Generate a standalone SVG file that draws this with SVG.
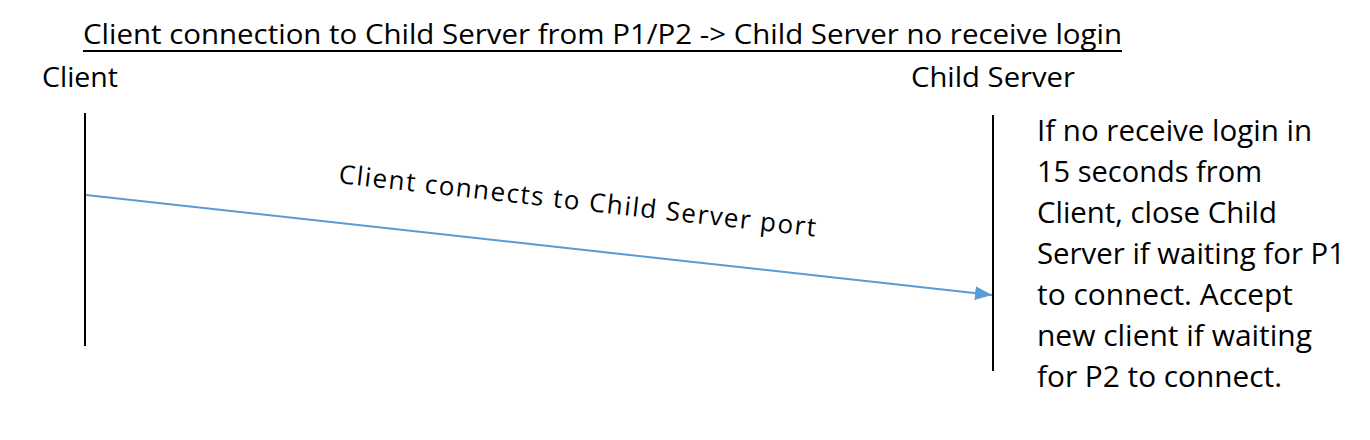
<svg xmlns="http://www.w3.org/2000/svg" width="1370" height="440" viewBox="0 0 1370 440">
<style>
text{font-family:"Open Sans","Noto Sans","Liberation Sans",sans-serif;fill:#000}
.t{font-size:28px}
.n{font-size:29px}
.lbl{font-size:26px}
.life{stroke:#000;stroke-width:2}
.msg{stroke:#5B9BD5;stroke-width:2;fill:none}
</style>
<defs>
<marker id="ah" markerUnits="userSpaceOnUse" markerWidth="18" markerHeight="14" refX="17" refY="7" orient="auto">
<path d="M0,0 L17,7 L0,14 Z" fill="#5B9BD5"/>
</marker>
</defs>
<rect width="1370" height="440" fill="#fff"/>
<g id="title">
<text class="t" x="83" y="44" textLength="1039" lengthAdjust="spacingAndGlyphs">Client connection to Child Server from P1/P2 -&gt; Child Server no receive login</text>
<line x1="83" y1="51" x2="1122" y2="51" stroke="#000" stroke-width="2"/>
</g>
<g id="client">
<text class="t" x="42" y="87" textLength="76" lengthAdjust="spacingAndGlyphs">Client</text>
<line class="life" x1="85" y1="113" x2="85" y2="346"/>
</g>
<g id="child-server">
<text class="t" x="911" y="87" textLength="164" lengthAdjust="spacingAndGlyphs">Child Server</text>
<line class="life" x1="993" y1="115" x2="993" y2="371"/>
</g>
<g id="note">
<text class="n" x="1037" y="141" textLength="275" lengthAdjust="spacingAndGlyphs">If no receive login in</text>
<text class="n" x="1037" y="182" textLength="225" lengthAdjust="spacingAndGlyphs">15 seconds from</text>
<text class="n" x="1037" y="223" textLength="240" lengthAdjust="spacingAndGlyphs">Client, close Child</text>
<text class="n" x="1037" y="264" textLength="308" lengthAdjust="spacingAndGlyphs">Server if waiting for P1</text>
<text class="n" x="1037" y="305" textLength="256" lengthAdjust="spacingAndGlyphs">to connect. Accept</text>
<text class="n" x="1037" y="346" textLength="275" lengthAdjust="spacingAndGlyphs">new client if waiting</text>
<text class="n" x="1037" y="387" textLength="245" lengthAdjust="spacingAndGlyphs">for P2 to connect.</text>
</g>
<g id="connectors">
<line class="msg" x1="86" y1="195" x2="992" y2="295" marker-end="url(#ah)"/>
<text class="lbl" transform="translate(338,183) rotate(6.4)" textLength="480" lengthAdjust="spacing">Client connects to Child Server port</text>
</g>
</svg>
